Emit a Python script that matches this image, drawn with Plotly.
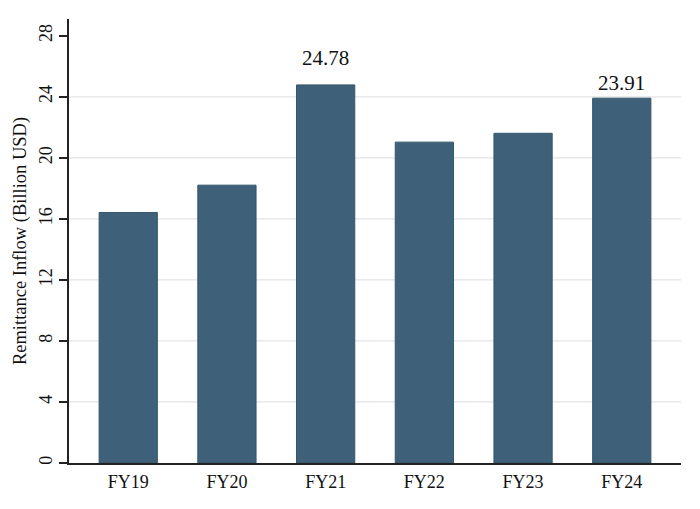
import plotly.graph_objects as go

categories = ["FY19", "FY20", "FY21", "FY22", "FY23", "FY24"]
values = [16.42, 18.21, 24.78, 21.03, 21.61, 23.91]
labeled = ["FY21", "FY24"]
label_shift = [13, 1]
y_ticks = [0, 4, 8, 12, 16, 20, 24, 28]
grid_vals = [4, 8, 12, 16, 20, 24]

BAR = "#3e6179"
FONT = "Liberation Serif"

fig = go.Figure()
fig.add_trace(go.Bar(
    x=categories, y=values,
    marker=dict(color=BAR, line=dict(color="#35566b", width=1)),
    width=0.59,
))

for g in grid_vals:
    fig.add_shape(type="line", xref="paper", yref="y", x0=0, x1=1, y0=g, y1=g,
                  line=dict(color="#e3e3e3", width=1.2), layer="below")

for cat, sh in zip(labeled, label_shift):
    v = values[categories.index(cat)]
    fig.add_annotation(x=cat, y=v, text=f"{v:.2f}", showarrow=False,
                       yanchor="bottom", yshift=sh,
                       font=dict(family=FONT, size=21, color="#111111"))

fig.update_layout(
    width=700, height=509,
    margin=dict(l=69, r=19, t=19, b=46),
    paper_bgcolor="white", plot_bgcolor="white",
    showlegend=False,
    font=dict(family=FONT, color="#111111"),
)
fig.update_xaxes(
    range=[-0.6, 5.6],
    automargin=False,
    showline=True, linecolor="#222222", linewidth=1.5,
    ticks="", showgrid=False,
    tickfont=dict(family=FONT, size=18, color="#111111"),
    ticklabelstandoff=2,
)
fig.update_yaxes(
    range=[0, 29.1],
    automargin=False,
    tickvals=y_ticks,
    tickangle=-90,
    showline=True, linecolor="#222222", linewidth=1.5,
    ticks="outside", ticklen=8, tickcolor="#222222", tickwidth=1.5,
    showgrid=False, zeroline=False,
    tickfont=dict(family=FONT, size=18, color="#111111"),
    ticklabelstandoff=0,
    title=dict(text="Remittance Inflow (Billion USD)",
               font=dict(family=FONT, size=18.5, color="#111111"), standoff=5),
)

fig.write_html("out.html")
